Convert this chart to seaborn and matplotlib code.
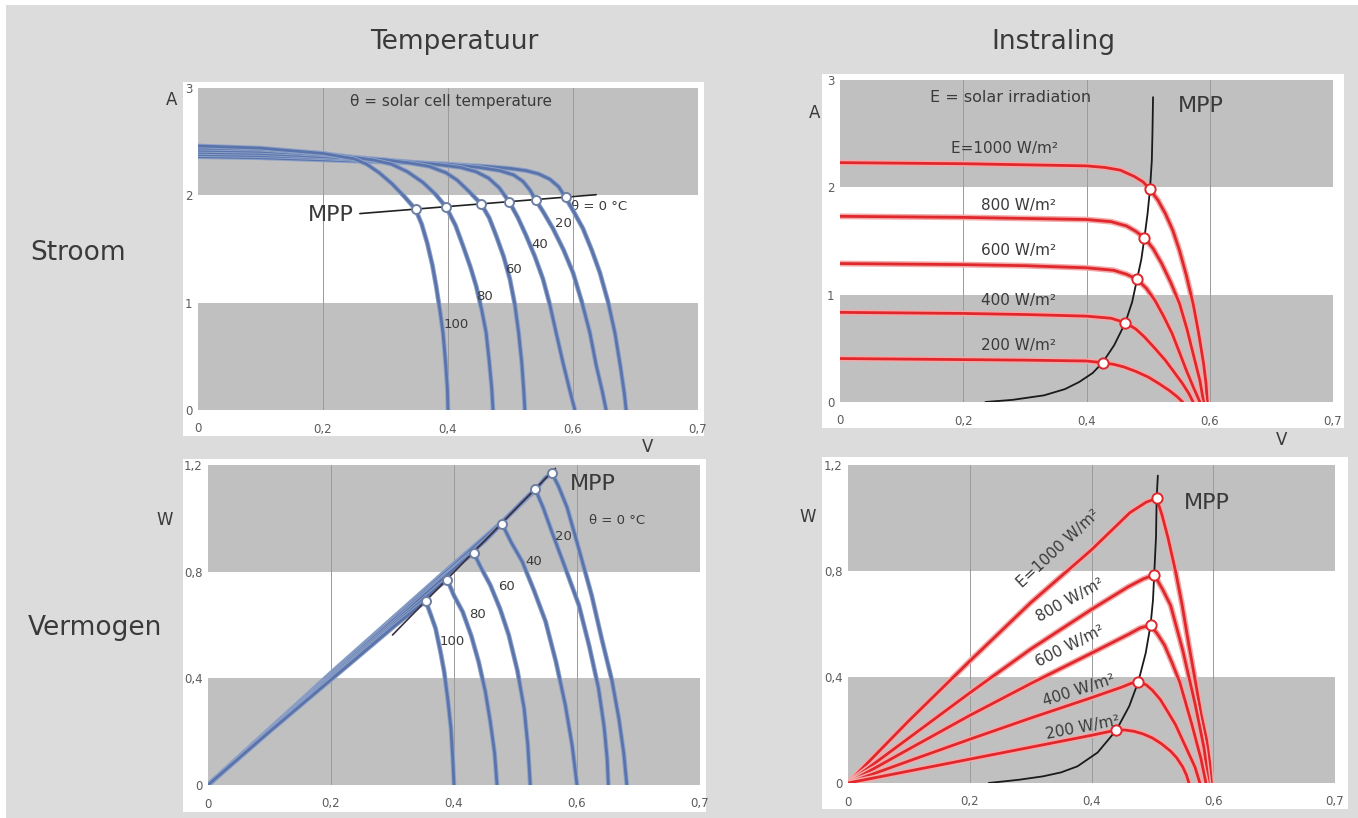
import matplotlib
matplotlib.use("Agg")
import matplotlib.pyplot as plt
import matplotlib.patheffects as pe
from matplotlib.patches import Rectangle
import seaborn as sns

# ---- data (visual units of the original diagram) ----
temps = [0, 20, 40, 60, 80, 100]
irradiances = [1000, 800, 600, 400, 200]

# x tick positions and the labels printed on the original axes
x_ticks = [0, 0.2, 0.4, 0.6, 0.8]
x_tick_labels = ["0", "0,2", "0,4", "0,6", "0,7"]
iv_y_ticks = [0, 1, 2, 3]
iv_y_labels = ["0", "1", "2", "3"]
p_y_ticks = [0, 0.4, 0.8, 1.2]
p_y_labels = ["0", "0,4", "0,8", "1,2"]

# current/voltage per cell temperature (0, 20, 40, 60, 80, 100 degC)
temp_iv_v = [
    [0, 0.1, 0.2, 0.3, 0.4, 0.46, 0.5, 0.525, 0.545, 0.563, 0.577, 0.588, 0.6, 0.616, 0.63, 0.643, 0.656, 0.667, 0.676, 0.682, 0.685],
    [0, 0.1, 0.2, 0.3, 0.4, 0.45, 0.483, 0.505, 0.52, 0.531, 0.54, 0.553, 0.568, 0.585, 0.6, 0.614, 0.627, 0.637, 0.647, 0.653],
    [0, 0.1, 0.2, 0.3, 0.38, 0.42, 0.445, 0.465, 0.482, 0.498, 0.512, 0.525, 0.539, 0.552, 0.563, 0.573, 0.584, 0.595, 0.603],
    [0, 0.1, 0.2, 0.3, 0.34, 0.37, 0.397, 0.415, 0.433, 0.453, 0.466, 0.477, 0.489, 0.499, 0.507, 0.513, 0.518, 0.521, 0.523],
    [0, 0.1, 0.2, 0.28, 0.31, 0.335, 0.36, 0.38, 0.397, 0.412, 0.424, 0.436, 0.445, 0.454, 0.461, 0.466, 0.47, 0.472],
    [0, 0.1, 0.2, 0.25, 0.27, 0.29, 0.31, 0.33, 0.348, 0.358, 0.367, 0.375, 0.381, 0.387, 0.392, 0.396, 0.399, 0.40],
]
temp_iv_i = [
    [2.36, 2.35, 2.33, 2.31, 2.29, 2.27, 2.25, 2.23, 2.2, 2.15, 2.08, 1.98, 1.86, 1.69, 1.49, 1.28, 1.01, 0.72, 0.4, 0.16, 0],
    [2.38, 2.37, 2.35, 2.32, 2.29, 2.26, 2.23, 2.19, 2.13, 2.05, 1.96, 1.84, 1.69, 1.49, 1.28, 1.01, 0.72, 0.42, 0.17, 0],
    [2.40, 2.39, 2.36, 2.33, 2.29, 2.26, 2.22, 2.16, 2.07, 1.94, 1.79, 1.625, 1.43, 1.22, 0.98, 0.72, 0.44, 0.18, 0],
    [2.42, 2.41, 2.38, 2.33, 2.3, 2.27, 2.21, 2.14, 2.04, 1.92, 1.79, 1.625, 1.43, 1.22, 0.98, 0.72, 0.44, 0.2, 0],
    [2.44, 2.43, 2.39, 2.33, 2.29, 2.22, 2.12, 2.01, 1.89, 1.72, 1.53, 1.33, 1.156, 0.93, 0.72, 0.45, 0.2, 0],
    [2.46, 2.44, 2.39, 2.34, 2.29, 2.21, 2.11, 1.99, 1.87, 1.73, 1.55, 1.35, 1.156, 0.93, 0.72, 0.45, 0.2, 0],
]
temp_iv_mpp_v = [0.588, 0.54, 0.498, 0.453, 0.397, 0.348]
temp_iv_mpp_i = [1.98, 1.96, 1.94, 1.92, 1.89, 1.87]
temp_iv_mpp_line_v = [0.259, 0.637]
temp_iv_mpp_line_i = [1.83, 2.006]

# power/voltage per cell temperature
temp_p_v = [
    [0, 0.1, 0.2, 0.3, 0.4, 0.48, 0.53, 0.548, 0.559, 0.57, 0.584, 0.6, 0.624, 0.64, 0.657, 0.668, 0.676, 0.681],
    [0, 0.1, 0.2, 0.3, 0.4, 0.48, 0.51, 0.532, 0.545, 0.559, 0.58, 0.603, 0.62, 0.635, 0.644, 0.649, 0.651],
    [0, 0.1, 0.2, 0.3, 0.4, 0.45, 0.478, 0.493, 0.511, 0.53, 0.549, 0.566, 0.581, 0.592, 0.60],
    [0, 0.1, 0.2, 0.3, 0.38, 0.415, 0.432, 0.445, 0.459, 0.475, 0.489, 0.503, 0.514, 0.52, 0.524],
    [0, 0.1, 0.2, 0.3, 0.35, 0.375, 0.389, 0.4, 0.414, 0.428, 0.44, 0.451, 0.459, 0.466, 0.47],
    [0, 0.1, 0.2, 0.3, 0.34, 0.354, 0.362, 0.37, 0.378, 0.384, 0.39, 0.395, 0.398, 0.40],
]
temp_p_w = [
    [0, 0.21, 0.42, 0.625, 0.83, 0.99, 1.1, 1.15, 1.17, 1.12, 1.04, 0.91, 0.71, 0.55, 0.39, 0.25, 0.12, 0],
    [0, 0.208, 0.415, 0.62, 0.825, 0.99, 1.06, 1.11, 1.04, 0.95, 0.82, 0.675, 0.52, 0.3625, 0.22, 0.1, 0],
    [0, 0.206, 0.41, 0.615, 0.815, 0.915, 0.98, 0.91, 0.8375, 0.73, 0.6125, 0.46, 0.30, 0.15, 0],
    [0, 0.205, 0.405, 0.605, 0.77, 0.84, 0.87, 0.81, 0.75, 0.66, 0.5625, 0.43, 0.2875, 0.15, 0],
    [0, 0.203, 0.40, 0.597, 0.695, 0.745, 0.77, 0.71, 0.65, 0.56, 0.4625, 0.35, 0.2375, 0.12, 0],
    [0, 0.2, 0.395, 0.59, 0.665, 0.69, 0.64, 0.5875, 0.5, 0.425, 0.32, 0.2125, 0.1, 0],
]
temp_p_mpp_v = [0.559, 0.532, 0.478, 0.432, 0.389, 0.354]
temp_p_mpp_w = [1.17, 1.11, 0.98, 0.87, 0.77, 0.69]
temp_p_mpp_line_v = [0.30, 0.565]
temp_p_mpp_line_w = [0.5625, 1.1875]

# current/voltage per irradiation (1000 .. 200 W/m2)
irr_iv_v = [
    [0, 0.1, 0.2, 0.3, 0.4, 0.43, 0.455, 0.478, 0.492, 0.503, 0.516, 0.528, 0.54, 0.551, 0.562, 0.573, 0.582, 0.59, 0.594, 0.596],
    [0, 0.1, 0.2, 0.3, 0.4, 0.44, 0.465, 0.48, 0.494, 0.508, 0.522, 0.537, 0.551, 0.563, 0.573, 0.584, 0.59],
    [0, 0.1, 0.2, 0.3, 0.4, 0.444, 0.465, 0.482, 0.497, 0.511, 0.525, 0.539, 0.551, 0.562, 0.574, 0.584],
    [0, 0.1, 0.2, 0.3, 0.4, 0.44, 0.463, 0.48, 0.494, 0.511, 0.528, 0.542, 0.556, 0.566, 0.573],
    [0, 0.1, 0.2, 0.3, 0.4, 0.426, 0.445, 0.461, 0.48, 0.5, 0.518, 0.534, 0.547, 0.556],
]
irr_iv_i = [
    [2.23, 2.225, 2.22, 2.21, 2.20, 2.185, 2.16, 2.10, 2.05, 1.98, 1.88, 1.755, 1.6, 1.41, 1.18, 0.916, 0.64, 0.357, 0.17, 0],
    [1.73, 1.725, 1.72, 1.71, 1.70, 1.68, 1.64, 1.59, 1.53, 1.43, 1.29, 1.11, 0.916, 0.68, 0.45, 0.2, 0],
    [1.29, 1.285, 1.28, 1.27, 1.25, 1.227, 1.19, 1.143, 1.06, 0.947, 0.8, 0.637, 0.46, 0.295, 0.13, 0],
    [0.835, 0.83, 0.825, 0.815, 0.80, 0.78, 0.739, 0.68, 0.606, 0.5, 0.388, 0.28, 0.17, 0.08, 0],
    [0.405, 0.40, 0.395, 0.39, 0.382, 0.366, 0.35, 0.326, 0.285, 0.233, 0.17, 0.109, 0.05, 0],
]
irr_iv_mpp_v = [0.503, 0.494, 0.482, 0.463, 0.426]
irr_iv_mpp_i = [1.98, 1.53, 1.143, 0.739, 0.366]
irr_iv_mpp_curve_v = [0.236, 0.28, 0.331, 0.365, 0.388, 0.41, 0.426, 0.445, 0.463, 0.474, 0.482,
                      0.489, 0.494, 0.499, 0.503, 0.506, 0.507, 0.508]
irr_iv_mpp_curve_i = [0, 0.02, 0.062, 0.12, 0.186, 0.27, 0.366, 0.53, 0.739, 0.93, 1.143,
                      1.33, 1.53, 1.75, 1.98, 2.25, 2.5, 2.84]

# power/voltage per irradiation
irr_p_v = [
    [0, 0.1, 0.2, 0.3, 0.4, 0.463, 0.49, 0.507, 0.516, 0.526, 0.538, 0.549, 0.56, 0.571, 0.58, 0.589, 0.594, 0.597],
    [0, 0.1, 0.2, 0.3, 0.4, 0.46, 0.485, 0.503, 0.517, 0.53, 0.55, 0.56, 0.57, 0.578, 0.585, 0.592],
    [0, 0.1, 0.2, 0.3, 0.4, 0.46, 0.48, 0.497, 0.509, 0.52, 0.533, 0.545, 0.555, 0.565, 0.573, 0.58, 0.588],
    [0, 0.1, 0.2, 0.3, 0.4, 0.45, 0.465, 0.477, 0.49, 0.5, 0.513, 0.525, 0.538, 0.55, 0.56, 0.57, 0.578],
    [0, 0.1, 0.2, 0.3, 0.4, 0.441, 0.455, 0.47, 0.485, 0.5, 0.515, 0.53, 0.54, 0.55, 0.556, 0.56],
]
irr_p_w = [
    [0, 0.235, 0.46, 0.68, 0.88, 1.02, 1.06, 1.074, 1.01, 0.922, 0.80, 0.67, 0.52, 0.379, 0.26, 0.164, 0.08, 0],
    [0, 0.17, 0.34, 0.505, 0.655, 0.74, 0.77, 0.786, 0.73, 0.67, 0.5, 0.4, 0.3, 0.21, 0.13, 0],
    [0, 0.128, 0.255, 0.375, 0.49, 0.56, 0.585, 0.596, 0.56, 0.52, 0.45, 0.38, 0.3, 0.22, 0.15, 0.09, 0],
    [0, 0.083, 0.165, 0.245, 0.322, 0.362, 0.376, 0.383, 0.37, 0.35, 0.315, 0.27, 0.22, 0.16, 0.11, 0.06, 0],
    [0, 0.045, 0.09, 0.135, 0.18, 0.2, 0.2, 0.195, 0.185, 0.17, 0.148, 0.12, 0.095, 0.06, 0.03, 0],
]
irr_p_mpp_v = [0.507, 0.503, 0.497, 0.477, 0.441]
irr_p_mpp_w = [1.074, 0.786, 0.596, 0.383, 0.2]
irr_p_mpp_curve_v = [0.231, 0.28, 0.32, 0.35, 0.377, 0.41, 0.441, 0.462, 0.477, 0.489, 0.497,
                     0.501, 0.503, 0.506, 0.507, 0.509]
irr_p_mpp_curve_w = [0, 0.012, 0.025, 0.04, 0.063, 0.115, 0.2, 0.29, 0.383, 0.49, 0.596,
                     0.69, 0.786, 0.93, 1.074, 1.16]

# ---- style ----
W, H = 1358, 818
BG = "#dcdcdc"
BAND = "#c0c0c0"
BLUE = "#5a74ab"
RED = "#e0282c"
TXT = "#3a3a3a"

sns.set_theme(style="white")
plt.rcParams["font.family"] = ["DejaVu Sans"]

fig = plt.figure(figsize=(W / 100, H / 100), dpi=100, facecolor="white")


def fig_rect(x0, y0, x1, y1, color, z=-2):
    fig.patches.append(Rectangle((x0 / W, 1 - y1 / H), (x1 - x0) / W, (y1 - y0) / H,
                                 transform=fig.transFigure, facecolor=color,
                                 edgecolor="none", zorder=z))


def px_axes(x0, y0, x1, y1):
    return fig.add_axes([x0 / W, 1 - y1 / H, (x1 - x0) / W, (y1 - y0) / H])


def fig_text(x, y, s, size, **kw):
    fig.text(x / W, 1 - y / H, s, fontsize=size, color=TXT, ha="center", va="center", **kw)


fig_rect(6, 5, W, H, BG, z=-3)
# white panel frames
fig_rect(183, 82, 704, 436, "white")
fig_rect(183, 459, 706, 812, "white")
fig_rect(822, 74, 1344, 428, "white")
fig_rect(822, 457, 1348, 809, "white")


def setup(ax, ymax, yticks, ylabels, bands):
    ax.set_facecolor("white")
    for lo, hi in bands:
        ax.axhspan(lo, hi, color=BAND, lw=0, zorder=0)
    for x in [0.2, 0.4, 0.6]:
        ax.axvline(x, color="#9a9a9a", lw=0.7, zorder=0.5)
    ax.set_xlim(0, 0.8)
    ax.set_ylim(0, ymax)
    ax.set_xticks(x_ticks)
    ax.set_xticklabels(x_tick_labels)
    ax.set_yticks(yticks)
    ax.set_yticklabels(ylabels)
    ax.tick_params(length=0, labelsize=8.5, labelcolor="#5c5c5c")
    ax.tick_params(axis="x", pad=9)
    ax.tick_params(axis="y", pad=4)
    ax.set_xlabel("")
    ax.set_ylabel("")
    for s in ax.spines.values():
        s.set_visible(False)


blue_fx = [pe.Stroke(linewidth=3.4, foreground="#8ea2c8"), pe.Normal()]
red_fx = [pe.Stroke(linewidth=4.2, foreground="#f4a9a9"), pe.Normal()]


def curves(ax, xs, ys, color, fx):
    for xv, yv in zip(xs, ys):
        sns.lineplot(x=xv, y=yv, ax=ax, color=color, lw=2.0, sort=False,
                     estimator=None, legend=False, path_effects=fx, zorder=3,
                     solid_joinstyle="round")


def mpp_marks(ax, xv, yv, edge, size):
    sns.scatterplot(x=xv, y=yv, ax=ax, s=size, color="white", edgecolor=edge,
                    linewidth=1.4, legend=False, zorder=5)


# ---- top left: current vs temperature ----
ax = px_axes(198, 88, 698, 410)
setup(ax, 3, iv_y_ticks, iv_y_labels, [(2, 3), (0, 1)])
curves(ax, temp_iv_v, temp_iv_i, BLUE, blue_fx)
sns.lineplot(x=temp_iv_mpp_line_v, y=temp_iv_mpp_line_i, ax=ax, color="#222222", lw=1.2,
             sort=False, estimator=None, legend=False, zorder=4)
mpp_marks(ax, temp_iv_mpp_v, temp_iv_mpp_i, "#6d7fa3", 42)
ax.text(0.213, 1.82, "MPP", fontsize=16, color=TXT, ha="center", va="center")
ax.text(0.405, 2.87, "θ = solar cell temperature", fontsize=11, color=TXT, ha="center", va="center")
ax.text(0.597, 1.90, "θ = 0 °C", fontsize=9.5, color=TXT, ha="left", va="center", zorder=2)
for t, (lx, ly) in zip(temps[1:], [(0.584, 1.74), (0.546, 1.54), (0.504, 1.31), (0.459, 1.06), (0.413, 0.80)]):
    ax.text(lx, ly, str(t), fontsize=9.5, color=TXT, ha="center", va="center")

# ---- bottom left: power vs temperature ----
ax = px_axes(208, 465, 700, 785)
setup(ax, 1.2, p_y_ticks, p_y_labels, [(0.8, 1.2), (0, 0.4)])
curves(ax, temp_p_v, temp_p_w, BLUE, blue_fx)
sns.lineplot(x=temp_p_mpp_line_v, y=temp_p_mpp_line_w, ax=ax, color="#3b3040", lw=1.2,
             sort=False, estimator=None, legend=False, zorder=4)
mpp_marks(ax, temp_p_mpp_v, temp_p_mpp_w, "#6d7fa3", 42)
ax.text(0.625, 1.13, "MPP", fontsize=16, color=TXT, ha="center", va="center")
ax.text(0.665, 0.99, "θ = 0 °C", fontsize=9.5, color=TXT, ha="center", va="center")
for t, (lx, ly) in zip(temps[1:], [(0.578, 0.93), (0.53, 0.8375), (0.486, 0.744), (0.438, 0.6375), (0.397, 0.5375)]):
    ax.text(lx, ly, str(t), fontsize=9.5, color=TXT, ha="center", va="center")

# ---- top right: current vs irradiation ----
ax = px_axes(840, 80, 1333, 402)
setup(ax, 3, iv_y_ticks, iv_y_labels, [(2, 3), (0, 1)])
curves(ax, irr_iv_v, irr_iv_i, RED, red_fx)
sns.lineplot(x=irr_iv_mpp_curve_v, y=irr_iv_mpp_curve_i, ax=ax, color="#1a1a1a", lw=1.3,
             sort=False, estimator=None, legend=False, zorder=4)
mpp_marks(ax, irr_iv_mpp_v, irr_iv_mpp_i, RED, 55)
ax.text(0.276, 2.84, "E = solar irradiation", fontsize=11.5, color=TXT, ha="center", va="center")
ax.text(0.585, 2.76, "MPP", fontsize=16, color=TXT, ha="center", va="center")
for e, (lx, ly) in zip(irradiances, [(0.267, 2.36), (0.29, 1.83), (0.29, 1.41), (0.29, 0.95), (0.29, 0.53)]):
    lab = "E=1000 W/m²" if e == 1000 else f"{e} W/m²"
    ax.text(lx, ly, lab, fontsize=11, color=TXT, ha="center", va="center")

# ---- bottom right: power vs irradiation ----
ax = px_axes(848, 465, 1335, 783)
setup(ax, 1.2, p_y_ticks, p_y_labels, [(0.8, 1.2), (0, 0.4)])
curves(ax, irr_p_v, irr_p_w, RED, red_fx)
sns.lineplot(x=irr_p_mpp_curve_v, y=irr_p_mpp_curve_w, ax=ax, color="#1a1a1a", lw=1.3,
             sort=False, estimator=None, legend=False, zorder=4)
mpp_marks(ax, irr_p_mpp_v, irr_p_mpp_w, RED, 55)
ax.text(0.59, 1.055, "MPP", fontsize=16, color=TXT, ha="center", va="center")
for e, (lx, ly, rot) in zip(irradiances, [(0.345, 0.885, 43), (0.365, 0.69, 29), (0.365, 0.515, 27),
                                           (0.38, 0.35, 18), (0.385, 0.21, 11)]):
    lab = "E=1000 W/m²" if e == 1000 else f"{e} W/m²"
    ax.text(lx, ly, lab, fontsize=11, color=TXT, ha="center", va="center", rotation=rot,
            rotation_mode="anchor", zorder=6)

# ---- titles, row labels, unit labels ----
fig_text(454, 42, "Temperatuur", 19)
fig_text(1053, 42, "Instraling", 19)
fig_text(78, 253, "Stroom", 19)
fig_text(95, 628, "Vermogen", 19)
fig_text(172, 100, "A", 12)
fig_text(648, 447, "V", 12)
fig_text(165, 520, "W", 12)
fig_text(815, 113, "A", 12)
fig_text(1282, 440, "V", 12)
fig_text(808, 517, "W", 12)

fig.savefig("out.png", dpi=100, facecolor=fig.get_facecolor())
